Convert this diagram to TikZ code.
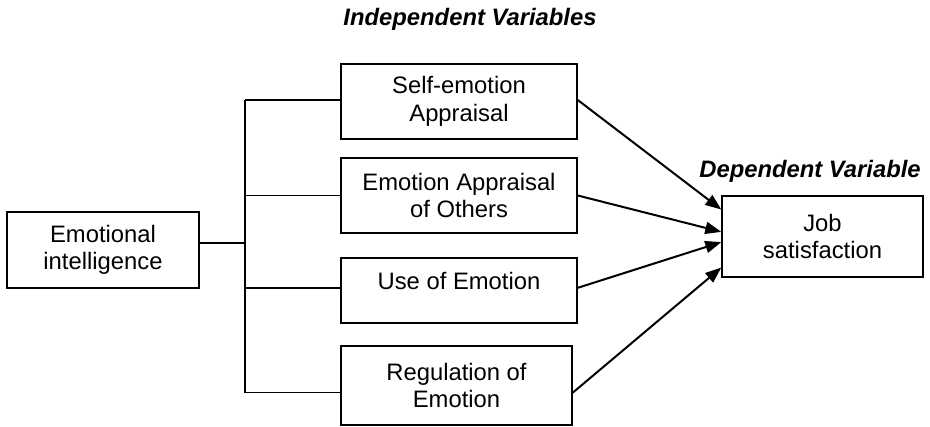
\documentclass[tikz,border=0pt]{standalone}
\usepackage{fontspec}
\setmainfont{Liberation Sans}
\usetikzlibrary{arrows.meta,calc}
\tikzset{
  box/.style={draw, line width=1.4pt, rectangle, inner sep=0pt, align=center,
    font=\fontsize{23.8}{27.4}\selectfont},
  tree/.style={line width=1.5pt},
  arr/.style={line width=2pt, -{Triangle[length=16pt,width=12pt]}},
  title/.style={anchor=base, inner sep=0pt, font=\fontsize{23.8}{27.4}\selectfont\bfseries\itshape}
}
\begin{document}
\begin{tikzpicture}[x=1pt,y=-1pt]
\useasboundingbox (0,0) rectangle (930,427);
\node[box, minimum width=192pt, minimum height=76pt] (ei) at (103,250) {Emotional\\intelligence};
\node[box, minimum width=236pt, minimum height=75pt] (self) at (459,101.5) {Self-emotion\\Appraisal};
\node[box, minimum width=236pt, minimum height=75pt] (ea) at (459,195.5) {Emotion Appraisal\\of Others};
\node[box, minimum width=236pt, minimum height=65pt, text height=17pt, text depth=19pt] (use) at (459,290.5) {Use of Emotion};
\node[box, minimum width=231pt, minimum height=79pt] (reg) at (456.5,385.5) {Regulation of\\Emotion};
\node[box, minimum width=201pt, minimum height=81pt] (job) at (822.5,236.5) {Job\\satisfaction};
\node[title] (indep) at (470,26) {Independent Variables};
\node[title] (dep) at (810,178) {Dependent Variable};

\coordinate (eiout) at ($(ei.north east)!0.41!(ei.south east)$);
\coordinate (selfin) at ($(self.north west)!0.48!(self.south west)$);
\coordinate (eain) at ($(ea.north west)!0.5!(ea.south west)$);
\coordinate (usein) at ($(use.north west)!0.46!(use.south west)$);
\coordinate (regin) at ($(reg.north west)!0.59!(reg.south west)$);
\coordinate (trunk) at (245,0);

\draw[tree] (eiout) -- (eiout -| trunk);
\draw[tree] (selfin -| trunk) -- (regin -| trunk);
\draw[tree] (selfin -| trunk) -- (selfin);
\draw[tree] (eain -| trunk) -- (eain);
\draw[tree] (usein -| trunk) -- (usein);
\draw[tree] (regin -| trunk) -- (regin);

\draw[arr] ($(self.north east)!0.48!(self.south east)$) -- ($(job.north west)!0.173!(job.south west)$);
\draw[arr] (ea.east) -- ($(job.north west)!0.444!(job.south west)$);
\draw[arr] ($(use.north east)!0.46!(use.south east)$) -- ($(job.north west)!0.568!(job.south west)$);
\draw[arr] ($(reg.north east)!0.59!(reg.south east)$) -- ($(job.north west)!0.877!(job.south west)$);
\end{tikzpicture}
\end{document}
